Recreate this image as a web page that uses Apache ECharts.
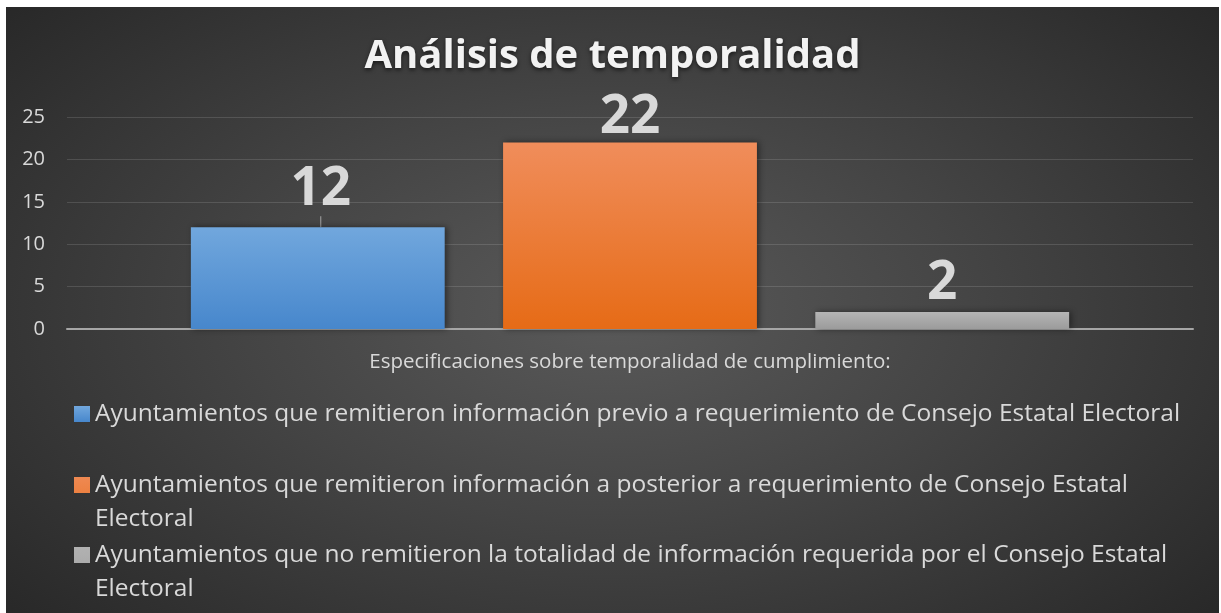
<!DOCTYPE html>
<html>
<head>
<meta charset="utf-8">
<script src="https://cdn.jsdelivr.net/npm/echarts@6/dist/echarts.min.js"></script>
<style>
    html, body { margin: 0; padding: 0; background: #ffffff; }
    #main {
        position: absolute; left: 6px; top: 7px; width: 1213px; height: 606px;
        background: radial-gradient(ellipse 68% 78% at 50% 50%, #5a5a5a 0%, #444444 45%, #272727 100%);
    }
</style>
</head>
<body>
<div id="main"></div>
<script>
// datos
var titulo = 'Análisis de temporalidad';
var ejeX = 'Especificaciones sobre temporalidad de cumplimiento:';
var categorias = [''];
var nombres = [
    'Ayuntamientos que remitieron información previo a requerimiento de Consejo Estatal Electoral',
    'Ayuntamientos que remitieron información a posterior a requerimiento de Consejo Estatal Electoral',
    'Ayuntamientos que no remitieron la totalidad de información requerida por el Consejo Estatal Electoral'
];
var valores = [12, 22, 2];
var yTicks = [0, 5, 10, 15, 20, 25];

var fuente = 'Open Sans';
var colores = [
    ['#71a7dd', '#4787cc'],
    ['#f08d5b', '#e66b16'],
    ['#b5b5b5', '#9b9b9b']
];
var distancias = [1, -2, 2];
var legendTops = [390, 461, 531];

var dom = document.getElementById('main');
var myChart = echarts.init(dom);

var series = [];
var legends = [];
for (var i = 0; i < nombres.length; i++) {
    var s = {
        name: nombres[i],
        type: 'bar',
        data: [valores[i]],
        barGap: '23%',
        barCategoryGap: '22%',
        itemStyle: {
            color: new echarts.graphic.LinearGradient(0, 0, 0, 1, [
                {offset: 0, color: colores[i][0]},
                {offset: 1, color: colores[i][1]}
            ]),
            shadowBlur: 6,
            shadowColor: 'rgba(0,0,0,0.45)',
            shadowOffsetX: 2
        },
        label: {
            show: true,
            position: 'top',
            distance: distancias[i],
            color: '#d9d9d9',
            fontFamily: fuente,
            fontWeight: 'bold',
            fontSize: 53
        }
    };
    if (i === 0) {
        s.labelLayout = {dy: -10, dx: 3};
        s.labelLine = {show: true, lineStyle: {color: '#a6a6a6', width: 1}};
    }
    series.push(s);

    // el icono queda en la primera línea cuando el texto ocupa dos
    var dosLineas = i > 0;
    legends.push({
        data: [{
            name: nombres[i],
            icon: dosLineas ? 'path://M0,0h0.1v0.1h-0.1zM0,9h16v16h-16zM0,67.9h0.1v0.1h-0.1z' : 'rect'
        }],
        left: 68,
        top: legendTops[i],
        padding: 0,
        itemWidth: 16,
        itemHeight: dosLineas ? 68 : 16,
        selectedMode: false,
        textStyle: {
            color: '#d9d9d9',
            fontFamily: fuente,
            fontSize: 24.5,
            lineHeight: 34,
            width: 1110,
            overflow: 'break'
        }
    });
}

option = {
    animation: false,
    backgroundColor: 'transparent',
    title: {
        text: titulo,
        left: 'center',
        top: 25,
        textStyle: {
            color: '#f2f2f2',
            fontFamily: fuente,
            fontWeight: 'bold',
            fontSize: 40,
            textShadowColor: 'rgba(0,0,0,0.6)',
            textShadowBlur: 4,
            textShadowOffsetY: 2
        }
    },
    legend: legends,
    grid: {
        left: 61,
        right: 26,
        top: 110,
        bottom: 284
    },
    xAxis: {
        type: 'category',
        data: categorias,
        name: ejeX,
        nameLocation: 'middle',
        nameGap: 23,
        nameTextStyle: {
            color: '#d9d9d9',
            fontFamily: fuente,
            fontSize: 20.5
        },
        axisLine: {lineStyle: {color: '#a6a6a6', width: 2}},
        axisTick: {show: false},
        axisLabel: {show: false}
    },
    yAxis: {
        type: 'value',
        min: yTicks[0],
        max: yTicks[yTicks.length - 1],
        interval: 5,
        axisLine: {show: false},
        axisTick: {show: false},
        axisLabel: {
            color: '#d9d9d9',
            fontFamily: fuente,
            fontSize: 20,
            margin: 22
        },
        splitLine: {lineStyle: {color: 'rgba(255,255,255,0.13)', width: 1}}
    },
    series: series
};

if (option && typeof option === "object") {
    myChart.setOption(option, true);
}
</script>
</body>
</html>
